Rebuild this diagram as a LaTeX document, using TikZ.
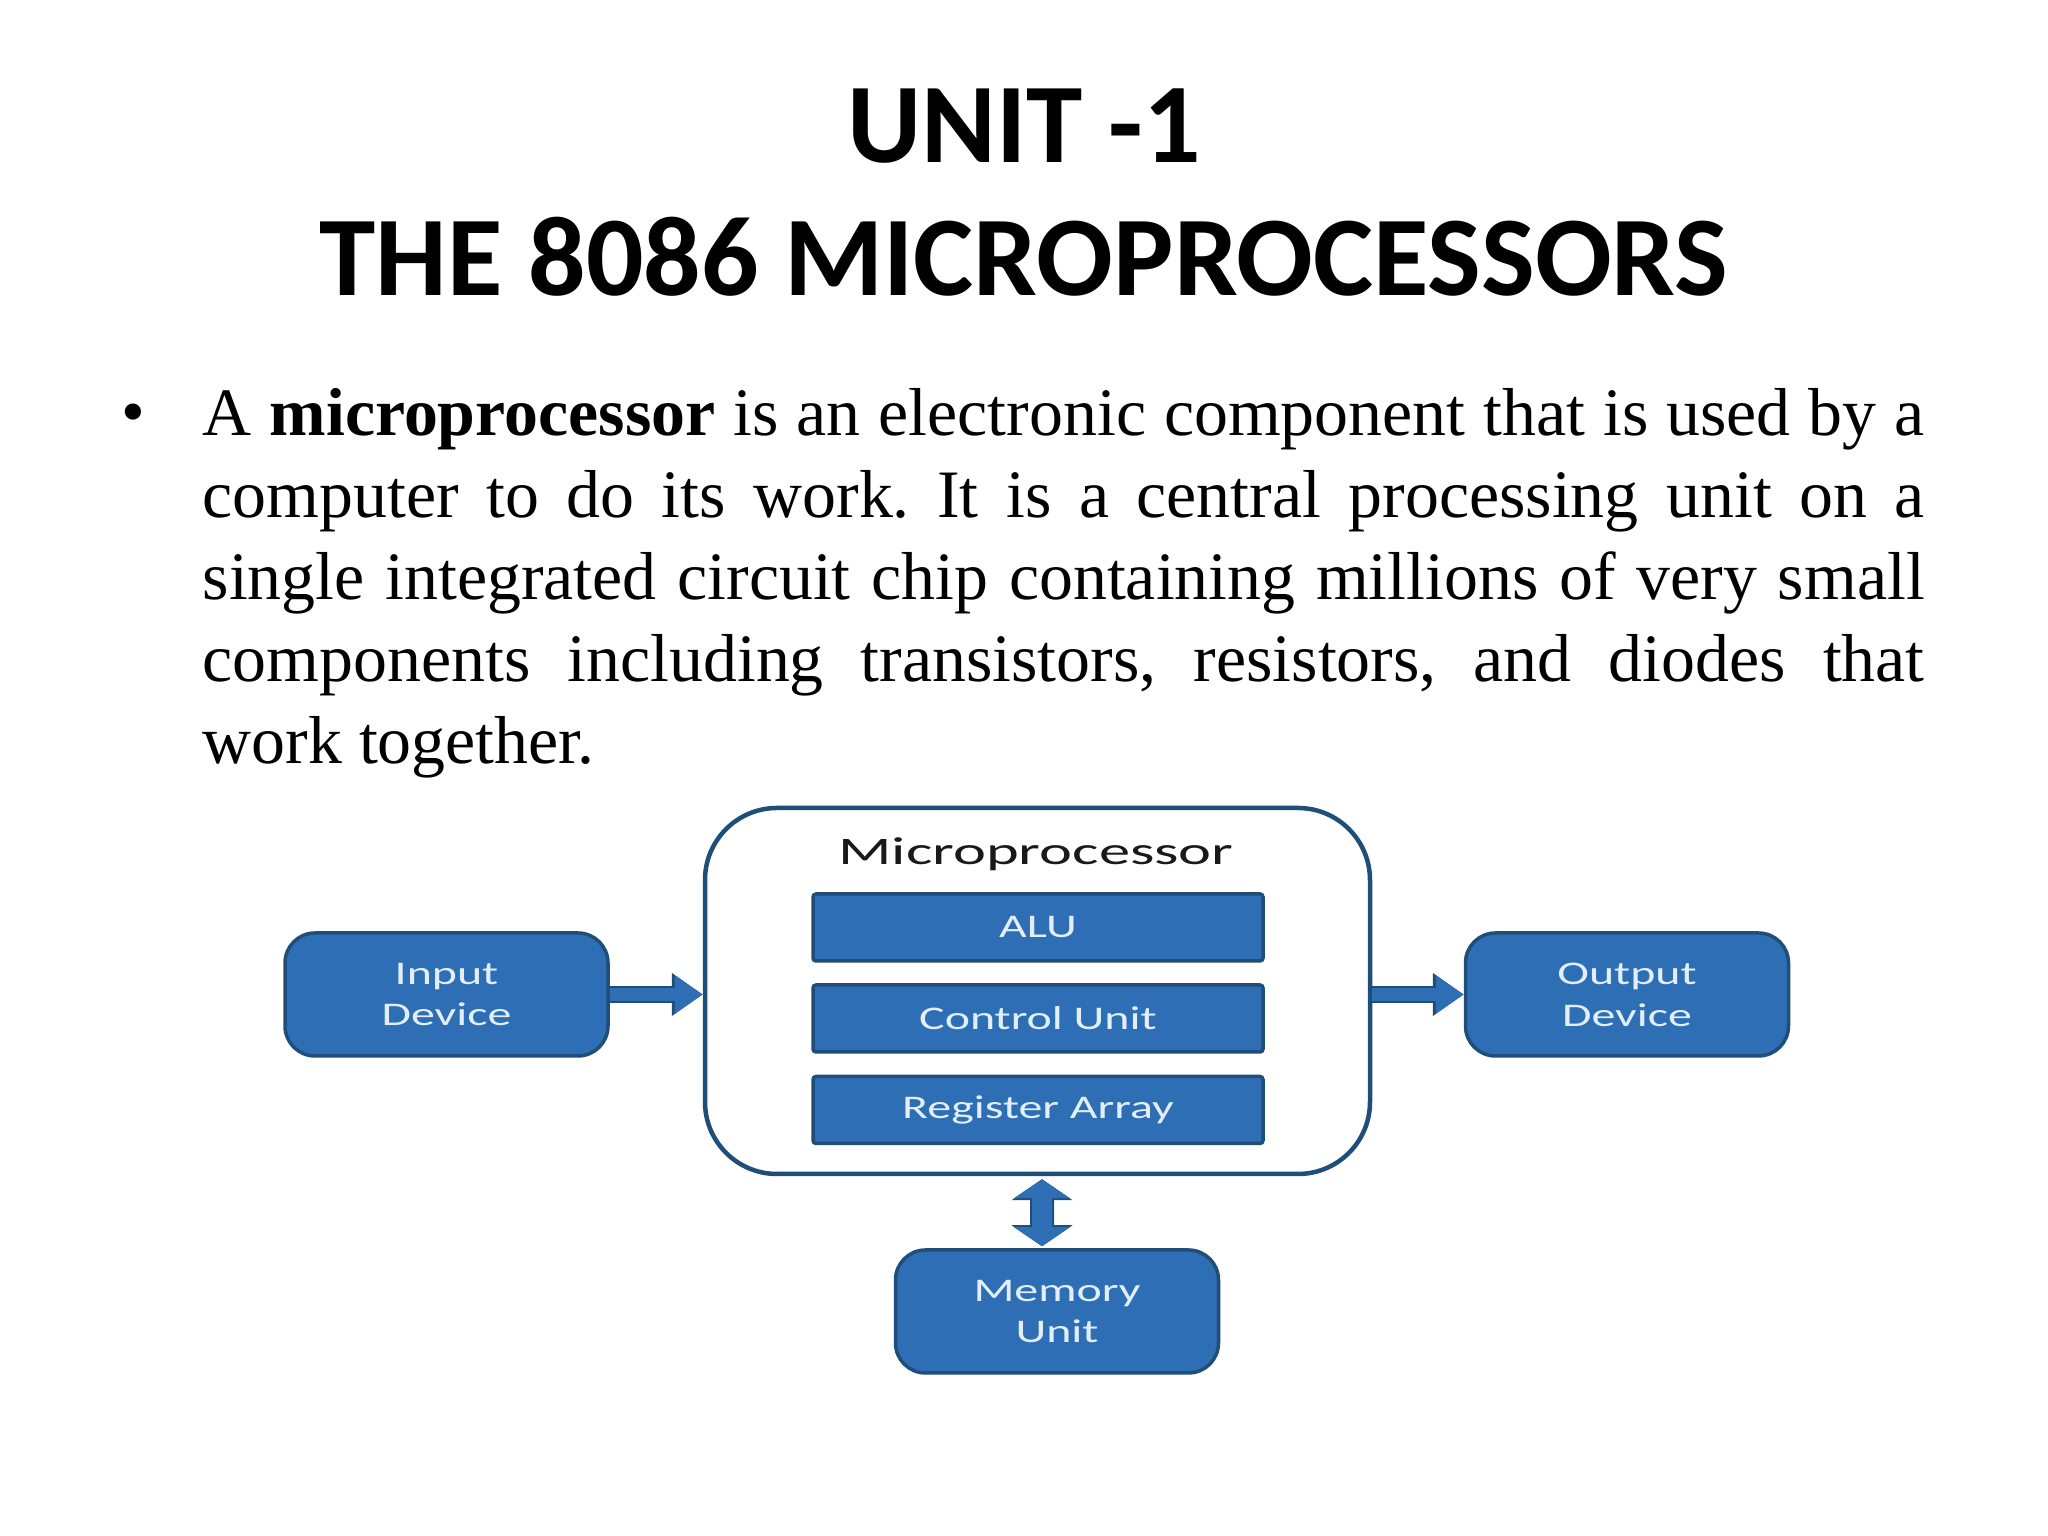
\documentclass[tikz,border=0pt]{standalone}
\usepackage{fontspec}
\setmainfont{Liberation Serif}
\newfontfamily\headfont{Carlito}
\newfontfamily\boxfont[FakeStretch=1.45]{Carlito}
\newfontfamily\cpufont[FakeStretch=1.6]{Carlito}
\usetikzlibrary{arrows.meta}

\definecolor{boxblue}{HTML}{2E6EB5}
\definecolor{boxedge}{HTML}{1F4E79}
\definecolor{labeltext}{HTML}{E2EFFB}

\tikzset{
  unitbox/.style={draw=boxedge, line width=0.035cm, fill=boxblue, rounded corners=0.3cm,
    minimum width=3.23cm, minimum height=1.23cm, text=labeltext, align=center,
    font=\boxfont\fontsize{9.4}{11.9}\selectfont},
  partbox/.style={draw=boxedge, line width=0.035cm, fill=boxblue, rounded corners=0.03cm,
    minimum width=4.5cm, minimum height=0.67cm, text=labeltext,
    font=\boxfont\fontsize{9.4}{11.9}\selectfont},
  cpubox/.style={draw=boxedge, line width=0.045cm, fill=white, rounded corners=0.72cm,
    minimum width=6.65cm, minimum height=3.66cm},
  flow/.style={boxblue, line width=0.13cm, -{Triangle[length=0.28cm,width=0.36cm]},
    preaction={draw=boxedge, line width=0.17cm, -{Triangle[length=0.31cm,width=0.41cm]}}},
  busflow/.style={boxblue, line width=0.2cm,
    {Triangle[length=0.19cm,width=0.55cm]}-{Triangle[length=0.19cm,width=0.55cm]},
    preaction={draw=boxedge, line width=0.24cm,
      {Triangle[length=0.21cm,width=0.6cm]}-{Triangle[length=0.21cm,width=0.6cm]}}},
}

\begin{document}
\begin{tikzpicture}
\useasboundingbox (0,0) rectangle (20.48,15.36);
\fill[white] (0,0) rectangle (20.48,15.36);

% Heading
\node[anchor=base, font=\headfont\bfseries\fontsize{32.3}{38}\selectfont] (unit) at (10.24,13.73) {UNIT -1};
\node[anchor=base, font=\headfont\bfseries\fontsize{32.3}{38}\selectfont] (title) at (10.24,12.40) {THE 8086 MICROPROCESSORS};

% Bullet text
\node[anchor=base, inner sep=0, font=\fontsize{19.3}{23.3}\selectfont] (bullet) at (1.33,11.01) {\textbullet};
\node[anchor=north west, inner sep=0, text width=17.22cm, align=justify,
      font=\fontsize{19.3}{23.3}\selectfont] (body) at (2.02,11.585)
  {\frenchspacing\tolerance=9000\relax
   \strut A \textbf{microprocessor} is an electronic component that is used by a\linebreak
   computer to do its work. It is a central processing unit on a\linebreak
   single integrated circuit chip containing millions of very small\linebreak
   components including transistors, resistors, and diodes that\linebreak
   work together.};

% Microprocessor block
\node[cpubox] (cpu) at (10.375,5.45) {};
\node[anchor=base, font=\cpufont\fontsize{11.1}{13}\selectfont, text=black!90] (cpulabel) at (10.36,6.71) {Microprocessor};
\foreach \name/\txt/\y in {alu/ALU/6.085, cu/Control Unit/5.175, reg/Register Array/4.26} {
  \node[partbox] (\name) at (10.38,\y) {\txt};
}

% Outer units
\node[unitbox] (in) at (4.465,5.415) {Input\\Device};
\node[unitbox] (out) at (16.27,5.415) {Output\\Device};
\node[unitbox] (mem) at (10.57,2.245) {Memory\\Unit};

% Connections
\draw[flow] (in.east) -- (in.east -| cpu.west);
\draw[flow] (out.west -| cpu.east) -- (out.west);
\draw[busflow, shorten <=0.03cm, shorten >=0.02cm] ([xshift=0.045cm]cpu.south) -- ([xshift=-0.15cm]mem.north);
\end{tikzpicture}
\end{document}
